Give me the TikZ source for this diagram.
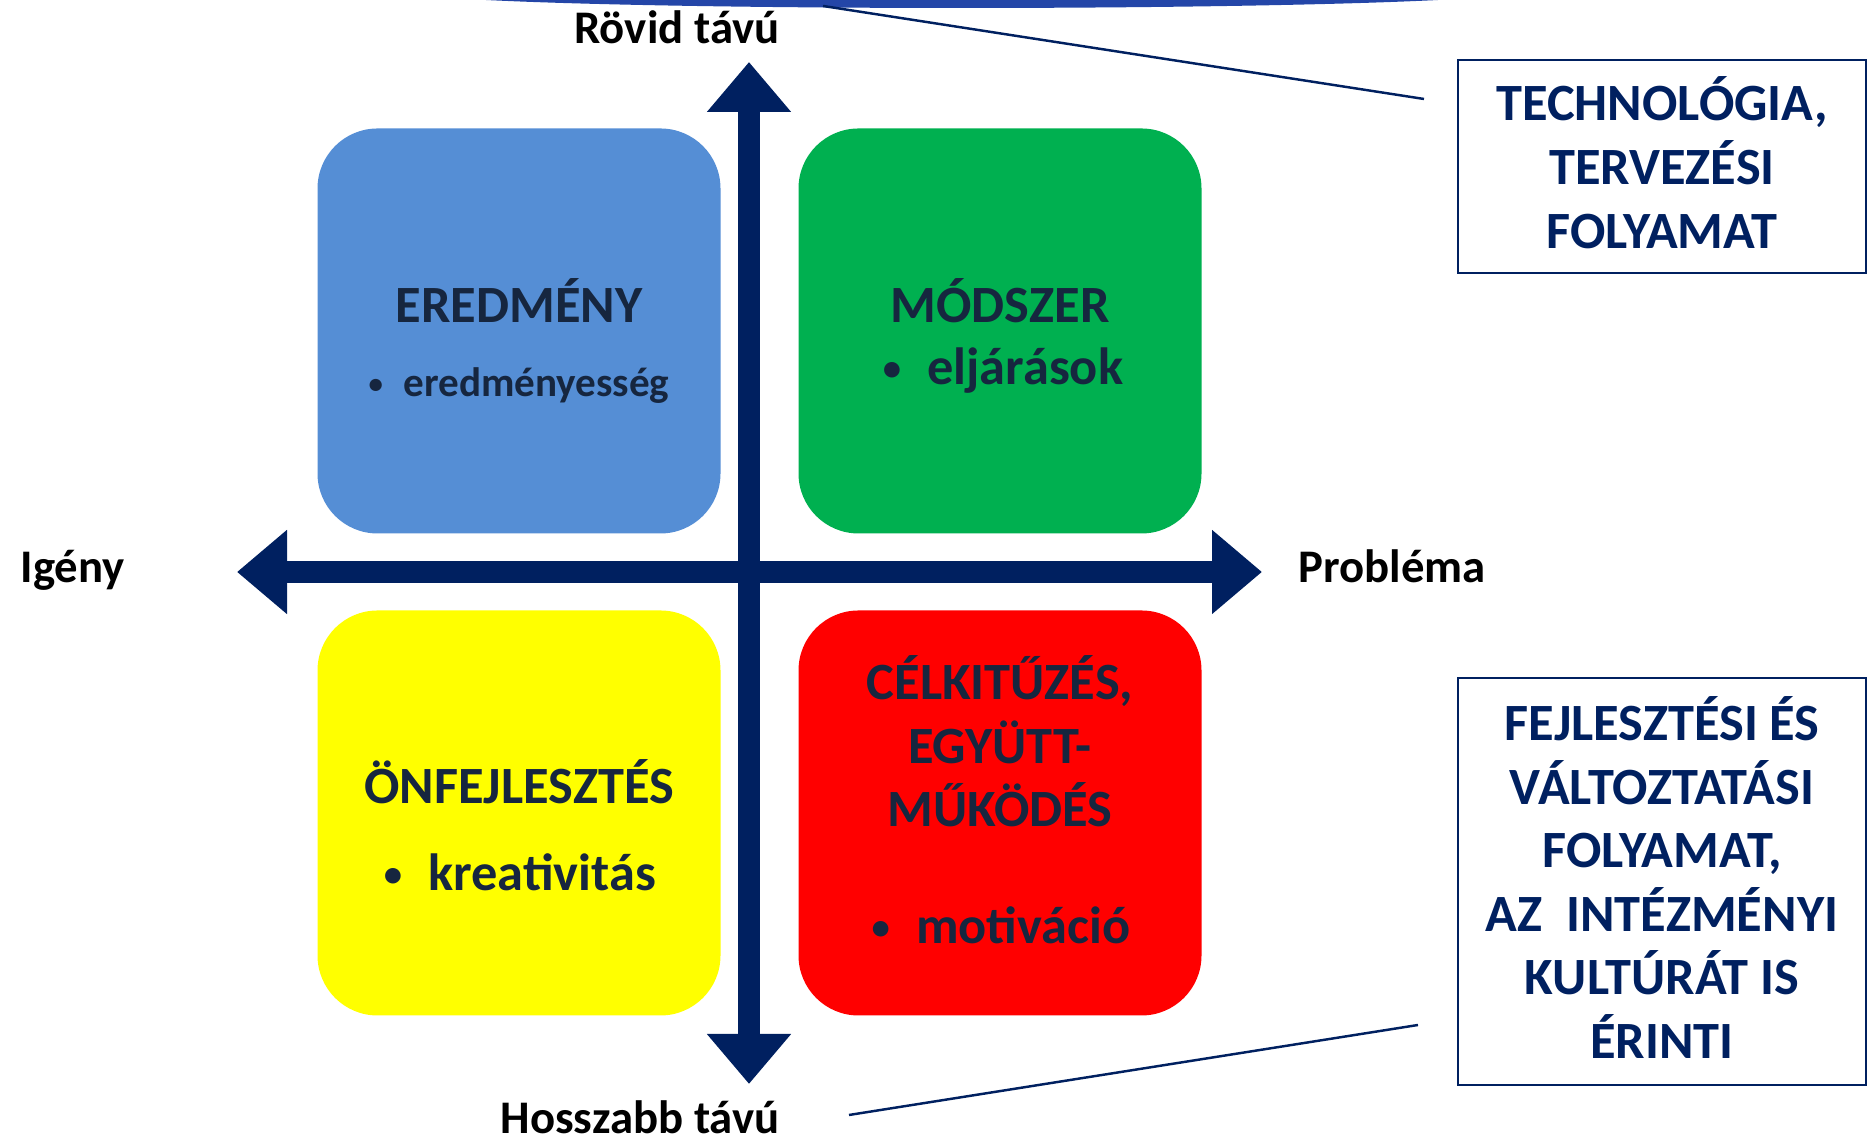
\documentclass[tikz,border=0pt]{standalone}
\usepackage{fontspec}
\setmainfont{Carlito}
\usepackage{graphicx}
\usepackage{tikz}
\usetikzlibrary{arrows.meta}

\definecolor{navy}{HTML}{002060}
\definecolor{inktext}{HTML}{16263F}
\definecolor{qblue}{HTML}{558ED5}
\definecolor{qgreen}{HTML}{00B050}
\definecolor{qyellow}{HTML}{FFFF00}
\definecolor{qred}{HTML}{FF0000}
\definecolor{arcblue}{HTML}{2446A8}

\newcommand{\qbullet}{\raisebox{0.08em}{\scalebox{0.7}{•}}\hspace{0.5em}}

\tikzset{
  quad/.style={rectangle, rounded corners=0.6cm, minimum width=4.03cm, minimum height=4.05cm, inner sep=0pt},
  qtitle/.style={anchor=base, align=center, inner sep=0pt, text=inktext, font=\bfseries\fontsize{14.9}{18.2}\selectfont},
  qitem/.style={anchor=base, inner sep=0pt, text=inktext, font=\bfseries\fontsize{14.9}{18.2}\selectfont},
  axislabel/.style={anchor=base, inner sep=0pt, font=\bfseries\fontsize{13.3}{16}\selectfont},
  sidebox/.style={draw=navy, line width=0.7pt, minimum width=4.08cm, align=center, inner sep=0pt, text depth=0.08cm, text=navy, font=\bfseries\fontsize{14.9}{18.1}\selectfont},
  axis/.style={navy, line width=0.22cm, {Triangle[length=0.5cm,width=0.81cm]}-{Triangle[length=0.5cm,width=0.81cm]}},
  pointer/.style={navy, line width=0.7pt}
}

\begin{document}
\begin{tikzpicture}
\useasboundingbox (0,0) rectangle (18.76,11.44);
\clip (0,0) rectangle (18.76,11.44);

% blue arc peeking in at the top
\fill[arcblue] (9.62,11.52) ellipse (5.5cm and 0.16cm);

% quadrants
\node (eredmeny) at (5.19,8.13) [quad, fill=qblue] {};
\node (modszer) at (10.0,8.13) [quad, fill=qgreen] {};
\node (onfejl) at (5.19,3.31) [quad, fill=qyellow] {};
\node (celkit) at (10.0,3.31) [quad, fill=qred] {};

% axes
\coordinate (top) at (7.49,10.82);
\coordinate (bottom) at (7.49,0.60);
\coordinate (left) at (2.37,5.72);
\coordinate (right) at (12.62,5.72);
\draw[axis] (left) -- (right);
\draw[axis] (bottom) -- (top);

% axis labels
\node (igeny) at (0.20,5.61) [axislabel, anchor=base west] {Igény};
\node (problema) at (12.98,5.61) [axislabel, anchor=base west] {Probléma};
\node (rovid) at (6.77,11.00) [axislabel] {Rövid távú};
\node (hosszabb) at (6.40,0.10) [axislabel] {Hosszabb távú};

% quadrant texts
\node (t1) at (5.19,8.21) [qtitle] {EREDMÉNY};
\node (b1) at (5.19,7.47) [qitem, font=\bfseries\fontsize{11.7}{14}\selectfont] {\qbullet eredményesség};
\node (t2) at (10.0,8.21) [qtitle] {MÓDSZER};
\node (b2) at (10.03,7.59) [qitem] {\qbullet eljárások};
\node (t3) at (5.19,3.40) [qtitle] {ÖNFEJLESZTÉS};
\node (b3) at (5.20,2.53) [qitem] {\qbullet kreativitás};
\node (t4) at (10.0,3.17) [qtitle] {CÉLKITŰZÉS,\\EGYÜTT-\\MŰKÖDÉS};
\node (b4) at (10.01,2.00) [qitem] {\qbullet motiváció};

% side notes
\node (tech) at (16.62,9.775) [sidebox, minimum height=2.13cm] {TECHNOLÓGIA,\\TERVEZÉSI\\FOLYAMAT};
\node (fejl) at (16.62,2.625) [sidebox, minimum height=4.07cm] {FEJLESZTÉSI ÉS\\VÁLTOZTATÁSI\\FOLYAMAT,\\AZ\ \ INTÉZMÉNYI\\KULTÚRÁT IS\\ÉRINTI};

% pointer lines
\coordinate (p1a) at (8.23,11.38);
\coordinate (p1b) at (14.24,10.45);
\coordinate (p2a) at (8.49,0.29);
\coordinate (p2b) at (14.18,1.19);
\draw[pointer] (p1a) -- (p1b);
\draw[pointer] (p2a) -- (p2b);

\end{tikzpicture}
\end{document}
